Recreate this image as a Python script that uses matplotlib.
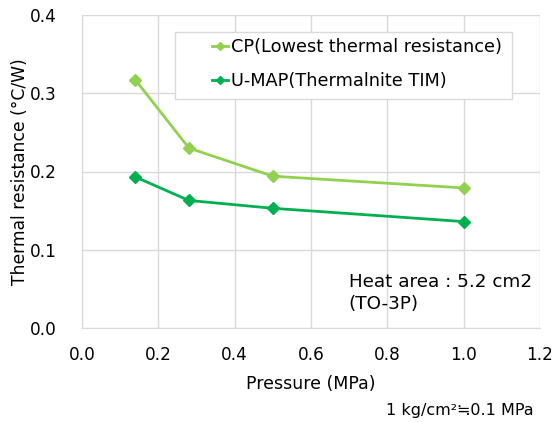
import matplotlib

matplotlib.use("Agg")
import matplotlib.pyplot as plt
from matplotlib.patches import Rectangle

plt.rcParams["font.family"] = ["DejaVu Sans", "Noto Sans CJK JP"]

pressure = [0.14, 0.28, 0.50, 1.00]
cp_values = [0.317, 0.230, 0.194, 0.179]
umap_values = [0.193, 0.163, 0.153, 0.136]
series_labels = ["CP(Lowest thermal resistance)", "U-MAP(Thermalnite TIM)"]

CP_COLOR = "#92D050"
UMAP_COLOR = "#00B050"
GRID = "#d9d9d9"

fig = plt.figure(figsize=(5.52, 4.22), dpi=100)
ax = fig.add_axes([82 / 552, 1 - 328 / 422, 458 / 552, 313 / 422])

ax.plot(pressure, cp_values, color=CP_COLOR, lw=2, marker="D", ms=6.5, label=series_labels[0])
ax.plot(pressure, umap_values, color=UMAP_COLOR, lw=2, marker="D", ms=6.5, label=series_labels[1])

ax.set_xlim(0, 1.2)
ax.set_ylim(0, 0.4)
ax.set_xticks([0.0, 0.2, 0.4, 0.6, 0.8, 1.0, 1.2])
ax.set_yticks([0.0, 0.1, 0.2, 0.3, 0.4])
ax.xaxis.set_major_formatter(matplotlib.ticker.FormatStrFormatter("%.1f"))
ax.yaxis.set_major_formatter(matplotlib.ticker.FormatStrFormatter("%.1f"))
ax.tick_params(length=0, labelsize=12.2)
ax.tick_params(axis="x", pad=13)
ax.tick_params(axis="y", pad=18)
ax.grid(True, color=GRID, lw=1)
ax.set_axisbelow(True)
for side in ["top", "right"]:
    ax.spines[side].set_visible(False)
for side in ["left", "bottom"]:
    ax.spines[side].set_color(GRID)

ax.set_xlabel("Pressure (MPa)", fontsize=12.5, labelpad=8)
ax.set_ylabel("Thermal resistance (°C/W)", fontsize=12.3, labelpad=1)

# legend box drawn separately (handles are indented inside it)
ax.add_patch(Rectangle((175 / 552, 1 - 99 / 422), 337 / 552, 67 / 422, transform=fig.transFigure,
                       facecolor="white", edgecolor=GRID, lw=1, zorder=4, clip_on=False))
leg = ax.legend(loc="upper left", bbox_to_anchor=(212 / 552, 1 - 38 / 422), bbox_transform=fig.transFigure,
                fontsize=12.8, handlelength=0.9, markerscale=0.65, frameon=False,
                borderpad=0, labelspacing=0.9, handletextpad=0.15, borderaxespad=0)
leg.set_zorder(5)

ax.text(0.699, 0.0697, "Heat area : 5.2 cm2\n(TO-3P)", fontsize=13.2, ha="left", va="top", linespacing=1.25)

fig.text(534 / 552, 1 - 410 / 422, "1 kg/cm²≒0.1 MPa", fontsize=11.5, ha="right", va="center")

fig.savefig("out.png", dpi=100, facecolor="white")
